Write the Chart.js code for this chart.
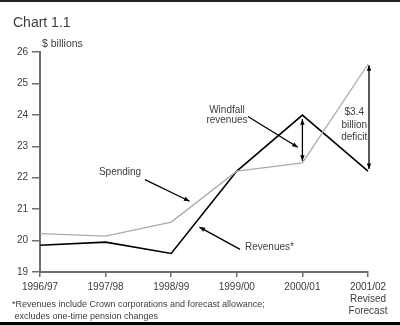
<!DOCTYPE html>
<html>
<head>
<meta charset="utf-8">
<script src="https://cdn.jsdelivr.net/npm/chart.js@4"></script>
<style>
  html, body { margin: 0; padding: 0; background: #fff; }
  #wrap { position: relative; width: 400px; height: 325px; overflow: hidden; }
  canvas { display: block; }
</style>
</head>
<body>
<div id="wrap"><canvas id="c" width="400" height="325"></canvas></div>
<script>
// ---- Data ----
const categories = ["1996/97", "1997/98", "1998/99", "1999/00", "2000/01", ["2001/02", "Revised", "Forecast"]];
const revenues = [19.85, 19.95, 19.59, 22.21, 23.99, 22.21];
const spending = [20.22, 20.14, 20.59, 22.21, 22.47, 25.61];
const yTicks = [19, 20, 21, 22, 23, 24, 25, 26];

const titleText = "Chart 1.1";
const unitText = "$ billions";
const footnoteLines = ["*Revenues include Crown corporations and forecast allowance;", " excludes one-time pension changes"];

const FONT = "'Liberation Sans', Arial, Helvetica, sans-serif";
const AXIS_COLOR = "#6e6e6e";
const TEXT_COLOR = "#3c3c3c";

function arrowHead(ctx, x1, y1, x2, y2, size) {
  const a = Math.atan2(y2 - y1, x2 - x1);
  ctx.beginPath();
  ctx.moveTo(x2, y2);
  ctx.lineTo(x2 - size * Math.cos(a - 0.38), y2 - size * Math.sin(a - 0.38));
  ctx.lineTo(x2 - size * Math.cos(a + 0.38), y2 - size * Math.sin(a + 0.38));
  ctx.closePath();
  ctx.fill();
}
function arrow(ctx, x1, y1, x2, y2, both) {
  ctx.beginPath();
  ctx.moveTo(x1, y1);
  ctx.lineTo(x2, y2);
  ctx.stroke();
  arrowHead(ctx, x1, y1, x2, y2, 6);
  if (both) arrowHead(ctx, x2, y2, x1, y1, 6);
}

const decor = {
  id: 'decor',
  afterDraw(chart) {
    const ctx = chart.ctx;
    const xs = chart.scales.x, ys = chart.scales.y;
    const X = v => xs.getPixelForValue(v);
    const Y = v => ys.getPixelForValue(v);
    ctx.save();
    // frame lines
    ctx.fillStyle = "#222";
    ctx.fillRect(0, 0, 400, 2);
    ctx.fillStyle = "#000";
    ctx.fillRect(0, 322, 400, 3);

    // title & unit
    ctx.fillStyle = TEXT_COLOR;
    ctx.textBaseline = "alphabetic";
    ctx.textAlign = "left";
    ctx.font = "14px " + FONT;
    ctx.fillText(titleText, 13, 27);
    ctx.font = "10.5px " + FONT;
    ctx.fillText(unitText, 42, 47);

    // footnote
    ctx.font = "9px " + FONT;
    ctx.fillText(footnoteLines[0], 12, 307);
    ctx.fillText(footnoteLines[1], 12, 319);

    // annotations
    ctx.strokeStyle = "#000";
    ctx.lineWidth = 1.3;
    ctx.font = "10px " + FONT;
    ctx.fillStyle = TEXT_COLOR;
    ctx.textAlign = "center";
    ctx.textBaseline = "middle";
    ctx.fillText("Windfall", X(2.85), Y(24.14));
    ctx.fillText("revenues", X(2.85), Y(23.82));
    ctx.fillText("$3.4", X(4.79), Y(24.08));
    ctx.fillText("billion", X(4.79), Y(23.68));
    ctx.fillText("deficit", X(4.79), Y(23.29));
    ctx.fillText("Spending", X(1.22), Y(22.17));
    ctx.textAlign = "left";
    ctx.fillText("Revenues*", X(3.125), Y(19.79));

    ctx.fillStyle = "#000";
    // windfall diagonal arrow
    arrow(ctx, X(3.17), Y(23.95), X(3.93), Y(22.97), false);
    // windfall double arrow (between spending and revenues in 2000/01)
    arrow(ctx, X(4), Y(revenues[4]) + 4, X(4), Y(spending[4]) - 2, true);
    // deficit double arrow in 2001/02
    arrow(ctx, X(5) + 1, Y(spending[5]) + 1, X(5) + 1, Y(revenues[5]) - 2, true);
    // spending arrow
    arrow(ctx, X(1.60), Y(21.94), X(2.28), Y(21.25), false);
    // revenues arrow
    arrow(ctx, X(3.05), Y(19.72), X(2.43), Y(20.43), false);
    ctx.restore();
  }
};

new Chart(document.getElementById('c'), {
  type: 'line',
  data: {
    labels: categories,
    datasets: [
      { label: 'Spending', data: spending, borderColor: '#ababab', borderWidth: 1.3, pointRadius: 0, tension: 0, fill: false },
      { label: 'Revenues', data: revenues, borderColor: '#000', borderWidth: 1.6, pointRadius: 0, tension: 0, fill: false }
    ]
  },
  options: {
    responsive: false,
    animation: false,
    events: [],
    layout: { padding: { top: 52, right: 32, left: 0, bottom: 0 } },
    plugins: { legend: { display: false }, tooltip: { enabled: false }, title: { display: false } },
    scales: {
      x: {
        type: 'category',
        offset: false,
        grid: { drawOnChartArea: false, drawTicks: true, tickLength: 5, color: AXIS_COLOR, lineWidth: 1.5 },
        border: { display: true, color: AXIS_COLOR, width: 2 },
        ticks: { color: TEXT_COLOR, font: { family: FONT, size: 10 }, padding: 4, maxRotation: 0, autoSkip: false },
        afterFit(s) { s.height = 53; }
      },
      y: {
        min: 19, max: 26,
        afterBuildTicks(s) { s.ticks = yTicks.map(v => ({ value: v })); },
        grid: { drawOnChartArea: false, drawTicks: true, tickLength: 8, color: AXIS_COLOR, lineWidth: 1.5 },
        border: { display: true, color: AXIS_COLOR, width: 2 },
        ticks: { color: TEXT_COLOR, font: { family: FONT, size: 10 }, padding: 4 },
        afterFit(s) { s.width = 40; }
      }
    }
  },
  plugins: [decor]
});
</script>
</body>
</html>
